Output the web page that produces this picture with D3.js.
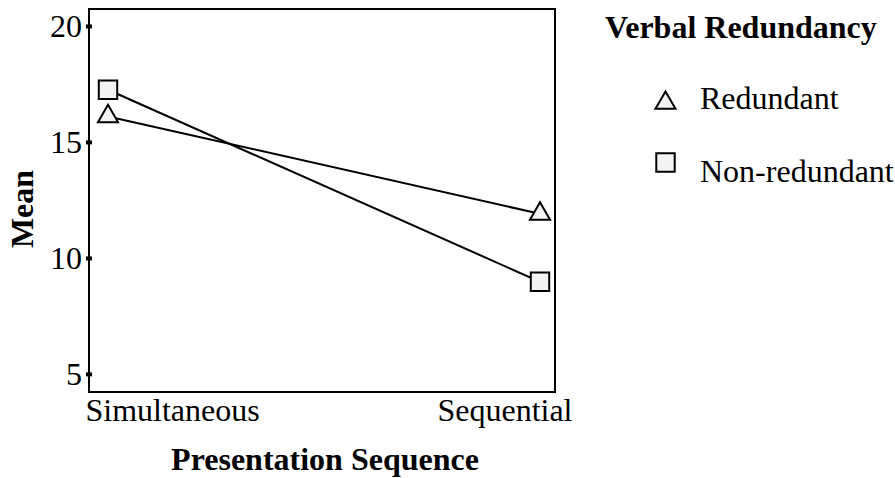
<!DOCTYPE html>
<html>
<head>
<meta charset="utf-8">
<script src="https://cdn.jsdelivr.net/npm/d3@7"></script>
<style>
  body { margin: 0; background: #fff; }
  svg text { font-family: "Liberation Serif", "Times New Roman", serif; fill: #000; }
  .axis path, .axis line { stroke: #000; }
</style>
</head>
<body>
<div id="chart"></div>
<script>
// data
var categories = ["Simultaneous", "Sequential"];
var redundant = [16.1, 11.9];
var nonRedundant = [17.25, 8.97];
var yTicks = [5, 10, 15, 20];
var seriesNames = ["Redundant", "Non-redundant"];

var margin = {top: 9, right: 340, bottom: 86, left: 89},
  width = 895 - margin.left - margin.right,
  height = 478 - margin.top - margin.bottom;

var svg = d3.select("#chart").append("svg")
    .attr("width", 895)
    .attr("height", 478)
  .append("g")
    .attr("transform", "translate(" + margin.left + "," + margin.top + ")");

// scales
var xScale = d3.scalePoint()
    .domain(categories)
    .range([19, width - 15]);

var yScale = d3.scaleLinear()
    .domain([4.22, 20.73])
    .range([height, 0]);

// frame
svg.append("rect")
    .attr("width", width)
    .attr("height", height)
    .attr("fill", "none")
    .attr("stroke", "#000")
    .attr("stroke-width", 2);

// y axis
var yAxis = svg.append("g")
    .attr("class", "axis")
    .call(d3.axisLeft(yScale).tickValues(yTicks).tickSize(6).tickPadding(1));
yAxis.select(".domain").remove();
yAxis.selectAll("line").attr("stroke-width", 4).attr("transform", "translate(3,0)");
yAxis.selectAll("text").style("font-size", "32px");

// x axis
var xAxis = svg.append("g")
    .attr("class", "axis")
    .attr("transform", "translate(0," + height + ")")
    .call(d3.axisBottom(xScale).tickSize(0).tickPadding(6));
xAxis.select(".domain").remove();
xAxis.selectAll("text")
    .style("font-size", "32px")
    .attr("dy", "0.72em")
    .attr("text-anchor", function(d, i) { return i === 0 ? "start" : "end"; })
    .attr("dx", function(d, i) { return i === 0 ? -23 : 32; });

// axis titles
svg.append("text")
    .attr("x", 236)
    .attr("y", height + 78)
    .attr("text-anchor", "middle")
    .style("font-size", "32px")
    .style("font-weight", "bold")
    .text("Presentation Sequence");

svg.append("text")
    .attr("transform", "translate(" + (-56) + "," + 200 + ") rotate(-90)")
    .attr("text-anchor", "middle")
    .style("font-size", "32px")
    .style("font-weight", "bold")
    .text("Mean");

// lines + markers
var line = d3.line()
    .x(function(d, i) { return xScale(categories[i]); })
    .y(function(d) { return yScale(d); });

var series = [
  {name: seriesNames[0], values: redundant, symbol: d3.symbolTriangle, size: 175},
  {name: seriesNames[1], values: nonRedundant, symbol: d3.symbolSquare, size: 340}
];

series.forEach(function(s) {
  svg.append("path")
      .datum(s.values)
      .attr("fill", "none")
      .attr("stroke", "#000")
      .attr("stroke-width", 2)
      .attr("d", line);
});

series.forEach(function(s) {
  svg.selectAll(null)
      .data(s.values)
    .enter().append("path")
      .attr("transform", function(d, i) { return "translate(" + xScale(categories[i]) + "," + yScale(d) + ")"; })
      .attr("d", d3.symbol().type(s.symbol).size(s.size))
      .attr("fill", "#f3f3f3")
      .attr("stroke", "#000")
      .attr("stroke-width", 2);
});

// legend
var legend = d3.select("svg").append("g")
    .attr("transform", "translate(605,0)");

legend.append("text")
    .attr("x", 0)
    .attr("y", 38)
    .style("font-size", "32px")
    .style("font-weight", "bold")
    .text("Verbal Redundancy");

var item = legend.selectAll(".legend")
    .data(series)
  .enter().append("g")
    .attr("class", "legend")
    .attr("transform", function(d, i) { return "translate(0," + (109 + i * 73) + ")"; });

item.append("path")
    .attr("transform", function(d, i) { return "translate(60.5," + (i === 0 ? -6 : -19.5) + ")"; })
    .attr("d", function(d) { return d3.symbol().type(d.symbol).size(d.size)(); })
    .attr("fill", "#f3f3f3")
    .attr("stroke", "#000")
    .attr("stroke-width", 2);

item.append("text")
    .attr("x", 95)
    .attr("y", 0)
    .style("font-size", "32px")
    .text(function(d) { return d.name; });
</script>
</body>
</html>
